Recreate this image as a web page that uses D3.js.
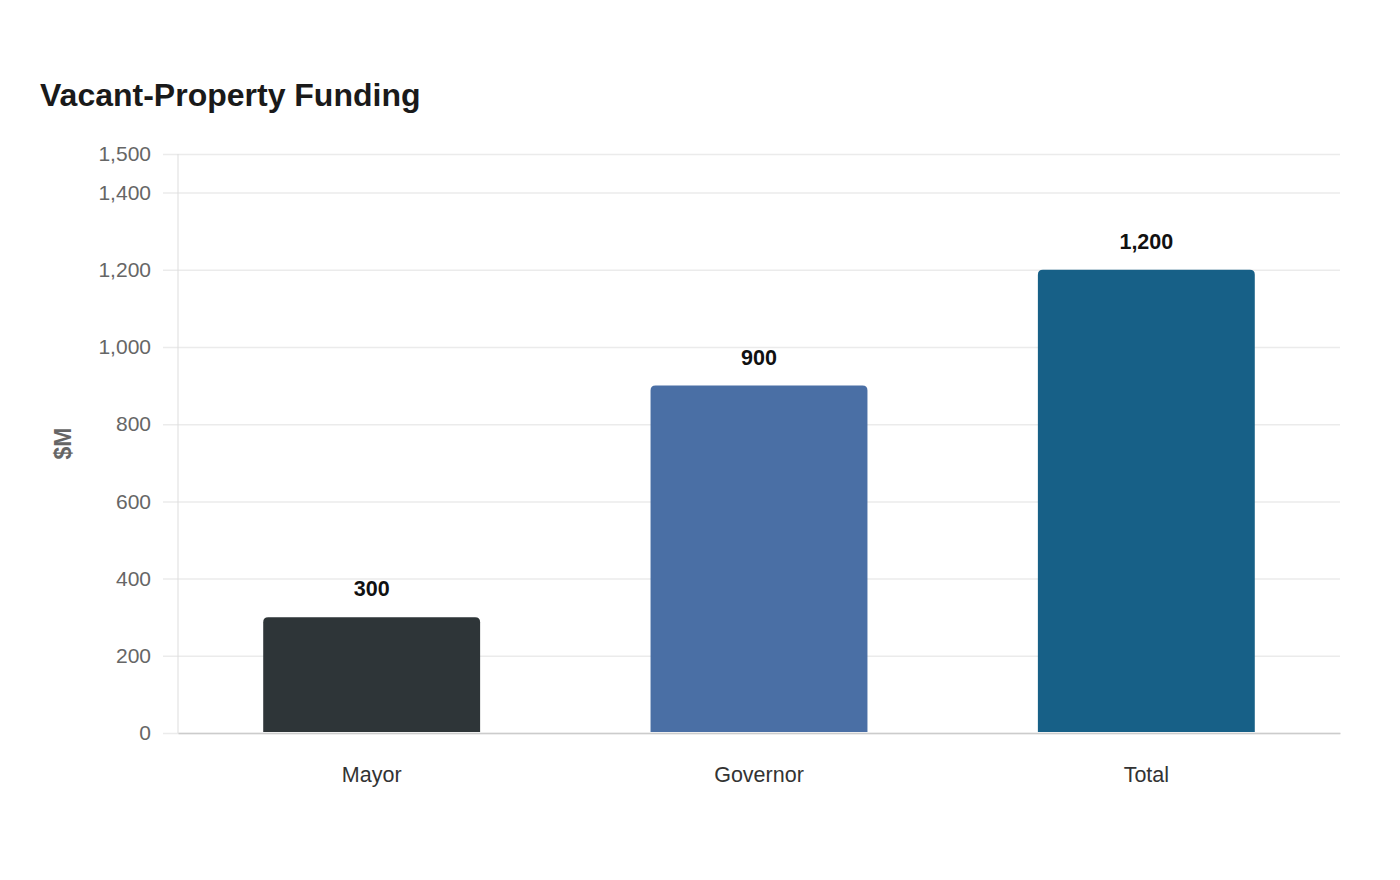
<!DOCTYPE html>
<html lang="en">
<head>
<meta charset="UTF-8">
<title>Vacant-Property Funding</title>
<style>
  body { margin: 0; background: #fff; }
  svg { display: block; font-family: "Liberation Sans", Arial, sans-serif; }
</style>
</head>
<body>
<script src="https://cdn.jsdelivr.net/npm/d3@7"></script>
<script>
const categories = ["Mayor", "Governor", "Total"];
const values = [300, 900, 1200];
const barColors = ["#2e3538", "#4a6fa5", "#176087"];
const yTicks = [0, 200, 400, 600, 800, 1000, 1200, 1400, 1500];

const width = 1400, height = 880;
const margin = {top: 154, right: 60, bottom: 147, left: 178};

const svg = d3.select("body").append("svg")
    .attr("width", width)
    .attr("height", height);

const x = d3.scaleBand()
    .domain(categories)
    .range([margin.left, width - margin.right])
    .paddingInner(0.44)
    .paddingOuter(0.22);

const y = d3.scaleLinear()
    .domain([0, 1500])
    .range([height - margin.bottom, margin.top]);

// title
svg.append("text")
    .attr("x", 40)
    .attr("y", 106)
    .attr("font-size", 32)
    .attr("font-weight", "bold")
    .attr("fill", "#1a1a1a")
    .text("Vacant-Property Funding");

// grid + y axis
const yAxis = svg.append("g")
    .attr("transform", `translate(${margin.left},0)`)
    .call(d3.axisLeft(y)
        .tickValues(yTicks)
        .tickSize(-(width - margin.left - margin.right))
        .tickPadding(27)
        .tickFormat(d3.format(",")));
yAxis.select(".domain").remove();
yAxis.selectAll(".tick line")
    .attr("x1", -15)
    .attr("stroke", "#ebebeb")
    .attr("stroke-width", 1.5);
yAxis.selectAll(".tick text")
    .attr("font-size", 21)
    .attr("fill", "#666");

svg.append("line")
    .attr("x1", margin.left).attr("x2", margin.left)
    .attr("y1", margin.top).attr("y2", height - margin.bottom)
    .attr("stroke", "#ddd")
    .attr("stroke-width", 1);

// y title
svg.append("text")
    .attr("transform", `translate(71,${(margin.top + height - margin.bottom) / 2}) rotate(-90)`)
    .attr("text-anchor", "middle")
    .attr("font-size", 23)
    .attr("font-weight", "bold")
    .attr("fill", "#666")
    .text("$M");

// bars with rounded tops
const r = 5;
function topRounded(x0, y0, w, h) {
  return `M${x0},${y0 + h}V${y0 + r}Q${x0},${y0} ${x0 + r},${y0}H${x0 + w - r}Q${x0 + w},${y0} ${x0 + w},${y0 + r}V${y0 + h}Z`;
}

svg.append("g")
  .selectAll("path")
  .data(categories)
  .join("path")
    .attr("d", (d, i) => topRounded(x(d), y(values[i]), x.bandwidth(), y(0) - 1 - y(values[i])))
    .attr("fill", (d, i) => barColors[i]);

// value labels
svg.append("g")
  .selectAll("text")
  .data(categories)
  .join("text")
    .attr("x", d => x(d) + x.bandwidth() / 2)
    .attr("y", (d, i) => y(values[i]) - 21)
    .attr("text-anchor", "middle")
    .attr("font-size", 21.5)
    .attr("font-weight", "bold")
    .attr("fill", "#111")
    .text((d, i) => d3.format(",")(values[i]));

// x axis
const xAxis = svg.append("g")
    .attr("transform", `translate(0,${height - margin.bottom})`)
    .call(d3.axisBottom(x).tickSize(0).tickPadding(34));
xAxis.select(".domain")
    .attr("stroke", "#ccc")
    .attr("stroke-width", 1.5);
xAxis.selectAll(".tick text")
    .attr("font-size", 21.5)
    .attr("fill", "#333");
</script>
</body>
</html>
